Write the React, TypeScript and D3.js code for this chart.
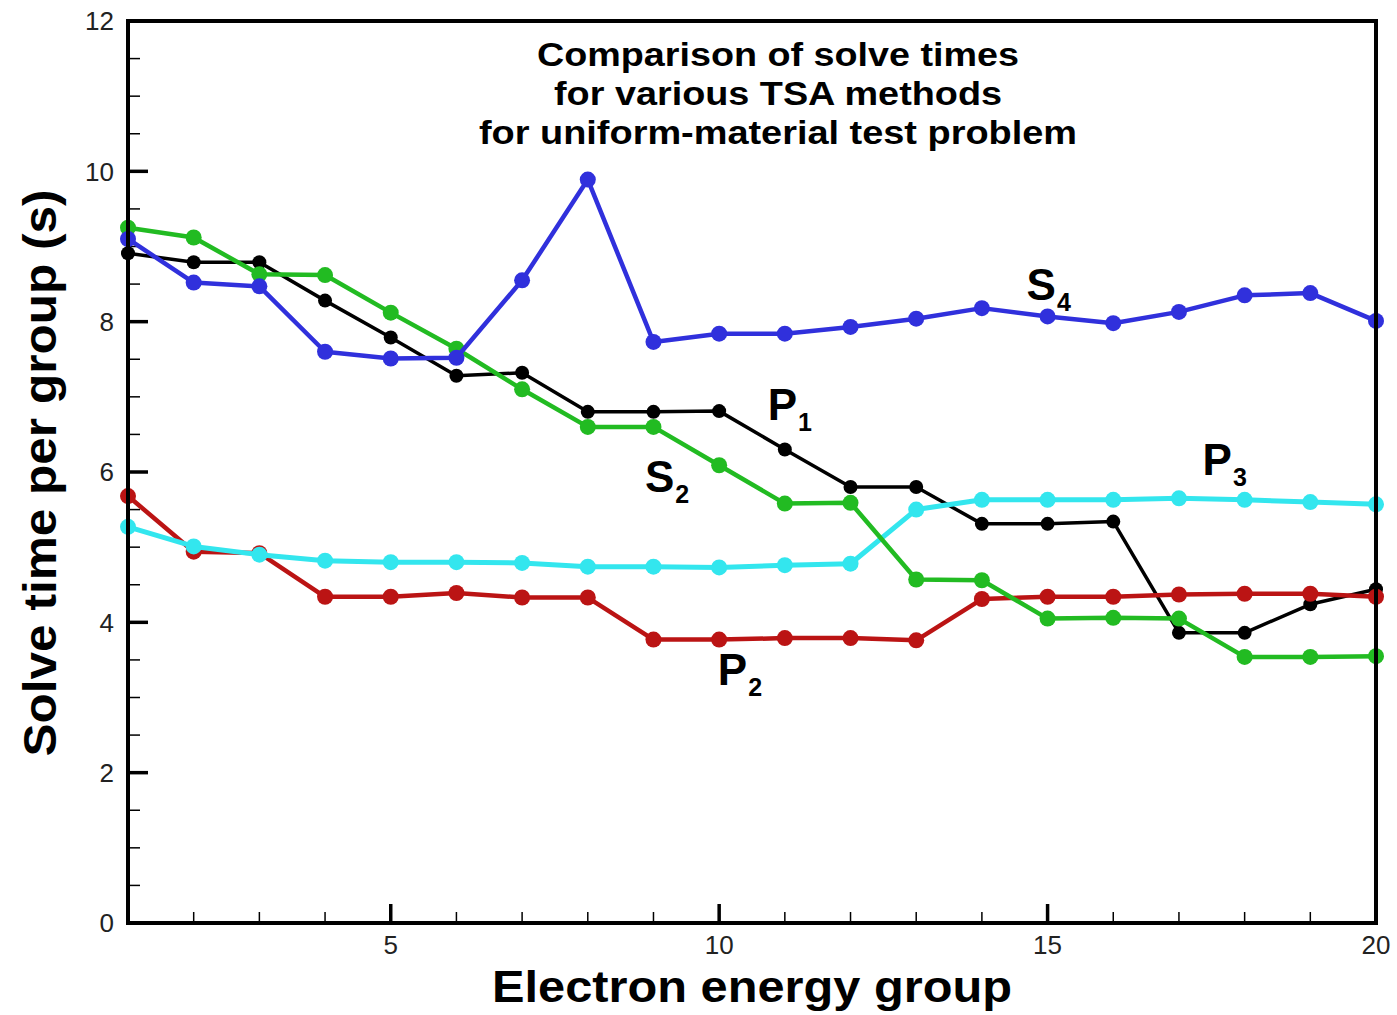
import React from "react";
import * as d3 from "d3";

const groups = d3.range(1, 21);
const p1 = [8.91, 8.79, 8.79, 8.28, 7.79, 7.28, 7.32, 6.80, 6.80, 6.81, 6.30, 5.80, 5.80, 5.31, 5.31, 5.34, 3.86, 3.86, 4.24, 4.44];
const s2 = [9.25, 9.12, 8.63, 8.62, 8.12, 7.64, 7.10, 6.60, 6.60, 6.09, 5.58, 5.59, 4.57, 4.56, 4.05, 4.06, 4.05, 3.54, 3.54, 3.55];
const s4 = [9.10, 8.52, 8.47, 7.60, 7.51, 7.52, 8.55, 9.89, 7.73, 7.84, 7.84, 7.93, 8.04, 8.18, 8.07, 7.98, 8.13, 8.35, 8.38, 8.01];
const p3 = [5.27, 5.01, 4.90, 4.82, 4.80, 4.80, 4.79, 4.74, 4.74, 4.73, 4.76, 4.78, 5.50, 5.63, 5.63, 5.63, 5.65, 5.63, 5.60, 5.57];
const p2 = [5.68, 4.94, 4.92, 4.34, 4.34, 4.39, 4.33, 4.33, 3.77, 3.77, 3.79, 3.79, 3.76, 4.31, 4.34, 4.34, 4.37, 4.38, 4.38, 4.34];

const xTickMajor = [5, 10, 15, 20];
const yTickMajor = [0, 2, 4, 6, 8, 10, 12];
const titleLines = ["Comparison of solve times", "for various TSA methods", "for uniform-material test problem"];

const seriesList = [
  { name: "P1", values: p1, color: "#000000", width: 3.5, r: 7 },
  { name: "P2", values: p2, color: "#bb1414", width: 4.5, r: 8 },
  { name: "P3", values: p3, color: "#33e6ee", width: 5, r: 8 },
  { name: "S2", values: s2, color: "#22bb22", width: 4.5, r: 8 },
  { name: "S4", values: s4, color: "#3030dc", width: 4.5, r: 8 },
];

const annotations = [
  { main: "S", sub: "4", x: 14.68, y: 8.29 },
  { main: "P", sub: "1", x: 10.74, y: 6.69 },
  { main: "S", sub: "2", x: 8.87, y: 5.73 },
  { main: "P", sub: "3", x: 17.36, y: 5.96 },
  { main: "P", sub: "2", x: 9.98, y: 3.17 },
];

export default function App() {
  const W = 1397, H = 1015;
  const left = 128, right = 1376, top = 21, bottom = 923;
  const x = d3.scaleLinear().domain([1, 20]).range([left, right]);
  const y = d3.scaleLinear().domain([0, 12]).range([bottom, top]);
  const line = d3.line<number>().x((_, i) => x(groups[i])).y((d) => y(d));
  const xMinor = d3.range(2, 20).filter((v) => !xTickMajor.includes(v));
  const yMinor = d3.range(0.5, 12, 0.5).filter((v) => v % 2 !== 0);
  const font = "'Liberation Sans', Arial, Helvetica, sans-serif";

  return (
    <svg width={W} height={H} style={{ position: "absolute", left: 0, top: 0, background: "#fff" }} fontFamily={font}>
      <rect x={0} y={0} width={W} height={H} fill="#fff" />
      {yMinor.map((v) => (
        <line key={"ym" + v} x1={left} x2={left + 12} y1={y(v)} y2={y(v)} stroke="#000" strokeWidth={1.5} />
      ))}
      {yTickMajor.map((v) => (
        <line key={"yM" + v} x1={left} x2={left + 20} y1={y(v)} y2={y(v)} stroke="#000" strokeWidth={3.5} />
      ))}
      {xMinor.map((v) => (
        <line key={"xm" + v} x1={x(v)} x2={x(v)} y1={bottom} y2={bottom - 11} stroke="#000" strokeWidth={1.5} />
      ))}
      {xTickMajor.map((v) => (
        <line key={"xM" + v} x1={x(v)} x2={x(v)} y1={bottom} y2={bottom - 19} stroke="#000" strokeWidth={3.5} />
      ))}
      {seriesList.map((s) => (
        <g key={s.name}>
          <path d={line(s.values) || ""} fill="none" stroke={s.color} strokeWidth={s.width} strokeLinejoin="round" />
          {s.values.map((v, i) => (
            <circle key={i} cx={x(groups[i])} cy={y(v)} r={s.r} fill={s.color} />
          ))}
        </g>
      ))}
      <rect x={left} y={top} width={right - left} height={bottom - top} fill="none" stroke="#000" strokeWidth={4} />
      {yTickMajor.map((v) => (
        <text key={"yl" + v} x={left - 14} y={y(v)} dy="0.36em" textAnchor="end" fontSize={26} fill="#222">
          {v}
        </text>
      ))}
      {xTickMajor.map((v) => (
        <text key={"xl" + v} x={x(v)} y={bottom + 31} textAnchor="middle" fontSize={26} fill="#222">
          {v}
        </text>
      ))}
      {titleLines.map((t, i) => (
        <text key={t} x={778} y={66 + i * 39} textAnchor="middle" fontSize={33} fontWeight="bold"
          textLength={[482, 448, 598][i]} lengthAdjust="spacingAndGlyphs">
          {t}
        </text>
      ))}
      <text x={752} y={1002} textAnchor="middle" fontSize={44} fontWeight="bold" textLength={520} lengthAdjust="spacingAndGlyphs">
        Electron energy group
      </text>
      <text transform={`translate(56, 473) rotate(-90)`} textAnchor="middle" fontSize={46} fontWeight="bold"
        textLength={567} lengthAdjust="spacingAndGlyphs">
        Solve time per group (s)
      </text>
      {annotations.map((a, i) => (
        <text key={i} x={x(a.x)} y={y(a.y)} fontSize={44} fontWeight="bold" fill="#000">
          {a.main}
          <tspan fontSize={25} dy={11} dx={1}>{a.sub}</tspan>
        </text>
      ))}
    </svg>
  );
}
